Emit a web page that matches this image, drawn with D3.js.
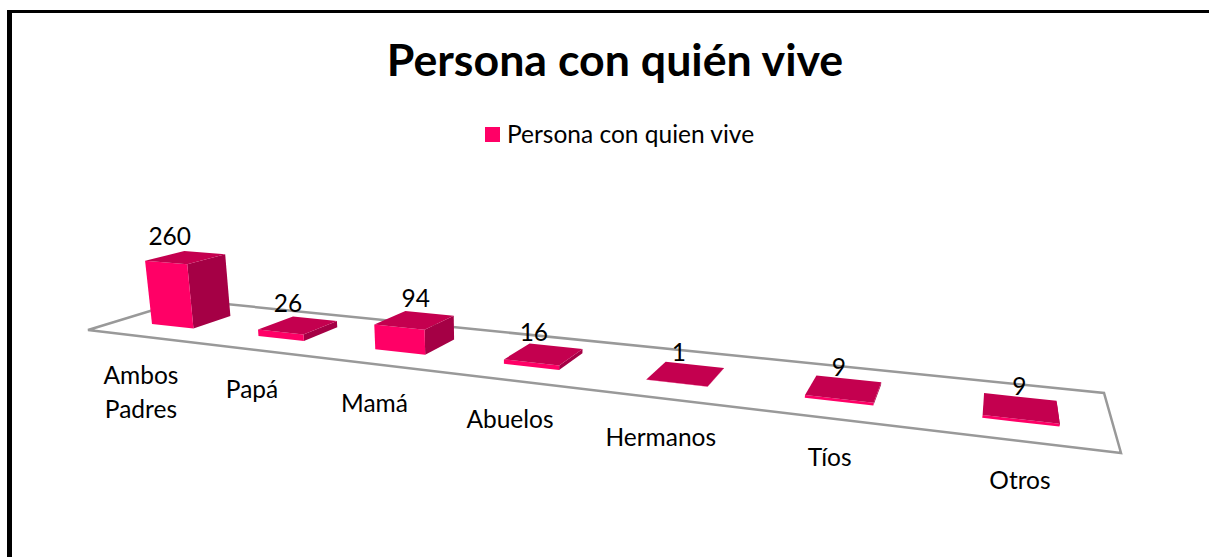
<!DOCTYPE html>
<html>
<head>
<meta charset="utf-8">
<script src="https://cdn.jsdelivr.net/npm/d3@7"></script>
<style>
  html, body { margin: 0; padding: 0; background: #fff; }
  text { font-family: Lato, "Open Sans", sans-serif; fill: #000; }
</style>
</head>
<body>
<div id="viz"></div>
<script>
const chartTitle = 'Persona con quién vive';
const seriesName = 'Persona con quien vive';
const categories = ['Ambos Padres', 'Papá', 'Mamá', 'Abuelos', 'Hermanos', 'Tíos', 'Otros'];
const values = [260, 26, 94, 16, 1, 9, 9];

const width = 1209;
const height = 557;
const frontColor = '#ff0066';
const sideColor = '#a50045';
const topColor = '#c4004f';
const floorColor = '#999999';
const labelSize = '24.5px';

// Floor corners on screen: front left, front right, back right, back left
const floorQuad = [[88, 330], [1121, 453], [1104, 393], [186, 300]];
// Vanishing point of the vertical edges, they converge downwards
const verticalVP = [504, 3537];
// The value labels were placed by hand in the original
const valueLabelNudge = [-9, -3, 8, -3, 0, 2, 6];

// Homography from the unit square to the floor quad
const squareToQuad = (q) => {
  const [[x0, y0], [x1, y1], [x2, y2], [x3, y3]] = q;
  const dx1 = x1 - x2, dx2 = x3 - x2, sx = x0 - x1 + x2 - x3;
  const dy1 = y1 - y2, dy2 = y3 - y2, sy = y0 - y1 + y2 - y3;
  const den = dx1 * dy2 - dx2 * dy1;
  const g = (sx * dy2 - dx2 * sy) / den;
  const h = (dx1 * sy - sx * dy1) / den;
  return [x1 - x0 + g * x1, x3 - x0 + h * x3, x0, y1 - y0 + g * y1, y3 - y0 + h * y3, y0, g, h, 1];
};
const H = squareToQuad(floorQuad);

// Category position along the floor, value as height
const xScale = d3.scaleBand().domain(categories).range([0.003, 1.003]).paddingInner(0.6).paddingOuter(0.3);
const zScale = d3.scaleLinear().domain([0, 260]).range([0, 0.0197]);
const depthFront = 0.3;
const depthBack = 0.7;

// u along the categories, v into the depth, z up
const project = (u, v, z) => {
  const w = H[6] * u + H[7] * v + H[8] - z;
  const x = H[0] * u + H[1] * v + H[2] - z * verticalVP[0];
  const y = H[3] * u + H[4] * v + H[5] - z * verticalVP[1];
  return [x / w, y / w];
};

const svg = d3.select('#viz')
  .append('svg')
    .attr('width', width)
    .attr('height', height)
    .style('display', 'block');

// Frame, only the top and left edges are in the picture
svg.append('rect')
    .attr('x', 7)
    .attr('y', 10)
    .attr('width', 5)
    .attr('height', height - 10)
    .attr('fill', '#000');
svg.append('rect')
    .attr('x', 7)
    .attr('y', 10)
    .attr('width', width - 7)
    .attr('height', 3)
    .attr('fill', '#000');

svg.append('text')
    .attr('x', 615)
    .attr('y', 76)
    .attr('text-anchor', 'middle')
    .style('font-size', '44.7px')
    .style('font-weight', 700)
    .text(chartTitle);

// Legend
svg.append('rect')
    .attr('x', 485)
    .attr('y', 127)
    .attr('width', 15)
    .attr('height', 15)
    .attr('fill', frontColor);
svg.append('text')
    .attr('x', 507)
    .attr('y', 143)
    .style('font-size', labelSize)
    .text(seriesName);

// Floor
svg.append('path')
    .attr('d', d3.line()(floorQuad) + 'Z')
    .attr('fill', 'none')
    .attr('stroke', floorColor)
    .attr('stroke-width', 2.5);

// Bars
const bars = svg.append('g')
    .attr('class', 'bars-group')
  .selectAll('g')
  .data(categories)
  .join('g');

const facePath = (corners) => d3.line()(corners) + 'Z';
const barCorners = (d, i) => {
  const u0 = xScale(d);
  const u1 = u0 + xScale.bandwidth();
  const z = zScale(values[i]);
  return {
    frontBottomL: project(u0, depthFront, 0),
    frontBottomR: project(u1, depthFront, 0),
    backBottomR: project(u1, depthBack, 0),
    frontTopL: project(u0, depthFront, z),
    frontTopR: project(u1, depthFront, z),
    backTopR: project(u1, depthBack, z),
    backTopL: project(u0, depthBack, z)
  };
};

bars.append('path')
    .attr('fill', sideColor)
    .attr('d', (d, i) => {
      const c = barCorners(d, i);
      return facePath([c.frontBottomR, c.backBottomR, c.backTopR, c.frontTopR]);
    });
bars.append('path')
    .attr('fill', frontColor)
    .attr('d', (d, i) => {
      const c = barCorners(d, i);
      return facePath([c.frontBottomL, c.frontBottomR, c.frontTopR, c.frontTopL]);
    });
bars.append('path')
    .attr('fill', topColor)
    .attr('d', (d, i) => {
      const c = barCorners(d, i);
      return facePath([c.frontTopL, c.frontTopR, c.backTopR, c.backTopL]);
    });

// Value labels sit above the middle of the top face
svg.append('g')
  .selectAll('text')
  .data(categories)
  .join('text')
    .attr('text-anchor', 'middle')
    .style('font-size', labelSize)
    .attr('x', (d, i) => project(xScale(d) + xScale.bandwidth() / 2, 0.5, zScale(values[i]))[0] - 7 + valueLabelNudge[i])
    .attr('y', (d, i) => project(xScale(d) + xScale.bandwidth() / 2, 0.5, zScale(values[i]))[1] - 13)
    .text((d, i) => values[i]);

// Category labels hang below the front edge, split over lines
const catLabels = svg.append('g')
  .selectAll('text')
  .data(categories)
  .join('text')
    .attr('text-anchor', 'middle')
    .style('font-size', labelSize)
    .attr('transform', (d) => {
      const p = project(xScale(d) + xScale.bandwidth() / 2, 0, 0);
      return `translate(${p[0] - 1}, ${p[1] + 48})`;
    });
catLabels.selectAll('tspan')
  .data(d => d.split(' ').map((line, i) => ({line, dy: i * 34})))
  .join('tspan')
    .attr('x', 0)
    .attr('y', d => d.dy)
    .text(d => d.line);
</script>
</body>
</html>
